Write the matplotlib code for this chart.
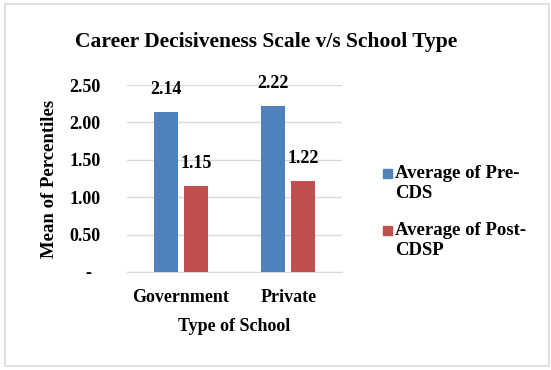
import matplotlib.pyplot as plt
import numpy as np
from matplotlib.patches import Rectangle

schools = ["Government", "Private"]
pre_cds = [2.14, 2.22]
post_cdsp = [1.15, 1.22]
series_names = ["Average of Pre-\nCDS", "Average of Post-\nCDSP"]
series_colors = ["#4f81bd", "#c0504d"]
yticks = [0, 0.5, 1.0, 1.5, 2.0, 2.5]
ytick_labels = ["-  ", "0.50", "1.00", "1.50", "2.00", "2.50"]

plt.rcParams['font.family'] = ['Liberation Serif', 'DejaVu Serif']
plt.rcParams['font.weight'] = 'bold'

fig = plt.figure(figsize=(5.51, 3.70), dpi=100)
fig.patches.append(Rectangle((5/551, 4/370), 544/551, 362/370, transform=fig.transFigure,
                             fill=False, edgecolor="#d9d9d9", linewidth=1.2))
ax = fig.add_axes([127/551, 1 - 272/370, 215/551, 187/370])

x = np.arange(len(schools))
w = 0.224
off = 0.14
b1 = ax.bar(x - off, pre_cds, w, color=series_colors[0], zorder=3)
b2 = ax.bar(x + off, post_cdsp, w, color=series_colors[1], zorder=3)

for bars, vals in [(b1, pre_cds), (b2, post_cdsp)]:
    for b, v in zip(bars, vals):
        ax.annotate(f"{v:.2f}", (b.get_x() + b.get_width() / 2, v), xytext=(0, 10),
                    textcoords="offset points", ha="center", va="bottom",
                    fontsize=13, fontweight="bold")

ax.set_xlim(-0.5, 1.5)
ax.set_ylim(0, 2.5)
ax.set_yticks(yticks)
ax.set_yticklabels(ytick_labels, fontsize=13, fontweight="bold")
ax.set_xticks(x)
ax.set_xticklabels(schools, fontsize=13, fontweight="bold")
ax.tick_params(length=0)
ax.tick_params(axis="y", pad=19)
ax.tick_params(axis="x", pad=12)
ax.grid(axis="y", color="#d9d9d9", linewidth=1, zorder=0)
for s in ["top", "right", "left"]:
    ax.spines[s].set_visible(False)
ax.spines["bottom"].set_color("#d9d9d9")

ax.set_xlabel("Type of School", fontsize=13, fontweight="bold", labelpad=9)
ax.set_ylabel("Mean of Percentiles", fontsize=13.5, fontweight="bold", labelpad=8)
fig.text(266/551, 1 - 42/370, "Career Decisiveness Scale v/s School Type", ha="center", va="center",
         fontsize=15.5, fontweight="bold")

# legend drawn by hand so the swatch sits beside the first text line
for i, (name, col) in enumerate(zip(series_names, series_colors)):
    ytop = 165 + i * 57
    fig.patches.append(Rectangle((383/551, 1 - (ytop + 13) / 370), 9/551, 9/370,
                                 transform=fig.transFigure, color=col))
    fig.text(395/551, 1 - ytop / 370, name, ha="left", va="top", fontsize=13.5,
             fontweight="bold", linespacing=1.2)

fig.savefig("out.png", dpi=100)
